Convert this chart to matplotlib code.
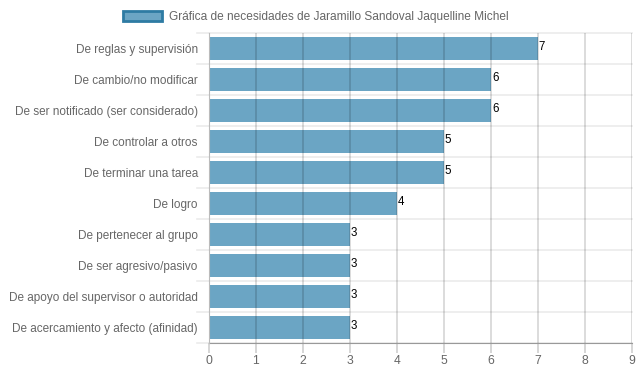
import matplotlib.pyplot as plt
from matplotlib.patches import Patch

plt.rcParams['font.family'] = ['Liberation Sans', 'DejaVu Sans']

# data
categories = [
    "De reglas y supervisión",
    "De cambio/no modificar",
    "De ser notificado (ser considerado)",
    "De controlar a otros",
    "De terminar una tarea",
    "De logro",
    "De pertenecer al grupo",
    "De ser agresivo/pasivo",
    "De apoyo del supervisor o autoridad",
    "De acercamiento y afecto (afinidad)",
]
values = [7, 6, 6, 5, 5, 4, 3, 3, 3, 3]
series_name = "Gráfica de necesidades de Jaramillo Sandoval Jaquelline Michel"
x_ticks = list(range(0, 10))

bar_color = '#6ba5c4'
edge_color = '#2e7ba3'
text_gray = '#666666'

fig = plt.figure(figsize=(6.39, 3.72), dpi=100)
ax = fig.add_axes([0.327, 0.078, 0.662, 0.833])

n = len(categories)
ypos = list(range(n))
ax.barh(ypos, values, height=0.72, color=bar_color, zorder=2)

ax.set_xlim(0, 9)
ax.set_ylim(n - 0.5, -0.5)
ax.set_xticks(x_ticks)
ax.set_yticks(ypos)
ax.set_yticklabels(categories)

# vertical grid (drawn over the bars, like the translucent original)
for t in x_ticks[1:]:
    ax.axvline(t, color='#000000', alpha=0.18, lw=1.1, zorder=3)
# horizontal lines at category boundaries
for b in range(n + 1):
    ax.axhline(b - 0.5, color='#ebebeb', lw=1.2, zorder=1, clip_on=False)
    ax.plot([-0.26, 0], [b - 0.5, b - 0.5], color='#ebebeb', lw=1.2,
            transform=ax.transData, clip_on=False, zorder=1)

for s in ['top', 'right']:
    ax.spines[s].set_visible(False)
ax.spines['left'].set_color('#bbbbbb')
ax.spines['bottom'].set_color('#999999')
ax.spines['left'].set_zorder(4)

ax.tick_params(axis='y', length=0, pad=8, labelsize=8.5, labelcolor=text_gray)
ax.tick_params(axis='x', length=7, color='#cccccc', width=1.1, pad=2,
               labelsize=8.7, labelcolor=text_gray)

for y, v in zip(ypos, values):
    ax.text(v + 0.02, y - 0.05, str(v), va='center', ha='left',
            fontsize=8.3, color='black', zorder=5)

handle = Patch(facecolor=bar_color, edgecolor=edge_color, linewidth=2)
fig.legend([handle], [series_name], loc='upper center', bbox_to_anchor=(0.494, 1.0),
           frameon=False, fontsize=8.55, labelcolor=text_gray,
           handlelength=3.3, handleheight=0.9, handletextpad=0.6)

fig.savefig('out.png', dpi=100)
